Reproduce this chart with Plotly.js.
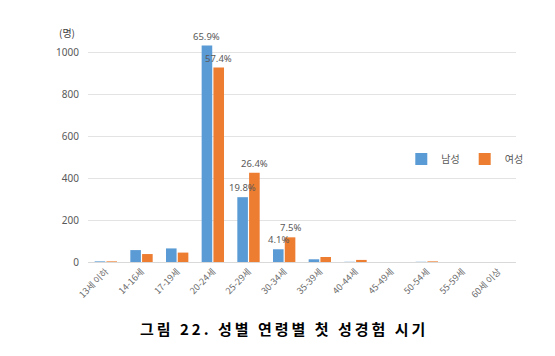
<!DOCTYPE html>
<html>
<head>
<meta charset="utf-8">
<script src="https://cdn.plot.ly/plotly-3.0.1.min.js"></script>
<style>html,body{margin:0;padding:0;background:#fff;}#chart{width:555px;height:356px;}</style>
</head>
<body>
<div id="chart"></div>
<script>
var categories = ["13세 이하","14-16세","17-19세","20-24세","25-29세","30-34세","35-39세","40-44세","45-49세","50-54세","55-59세","60세 이상"];
var male = [3, 57, 65, 1035, 310, 61, 13, 1, 0, 1, 0, 0];
var female = [3, 38, 45, 930, 427, 118, 24, 10, 0, 3, 0, 0];
var maleLabels = ["","","","65.9%","19.8%","4.1%","","","","","",""];
var femaleLabels = ["","","","57.4%","26.4%","7.5%","","","","","",""];

var labelFont = {family: "Noto Sans, Noto Sans CJK KR, sans-serif", size: 9.5, color: "#595959"};
var data = [
  {type: "bar", name: "남성", x: categories, y: male, marker: {color: "#5B9BD5"}, hoverinfo: "none"},
  {type: "bar", name: "여성", x: categories, y: female, marker: {color: "#ED7D31"}, hoverinfo: "none"}
];
var annotations = [
  {text: "(명)", xref: "paper", yref: "paper", x: -0.026, y: 1.0, xanchor: "right", yanchor: "middle",
   showarrow: false, font: {size: 10, color: "#404040"}},
  {text: "<b>그림 22. 성별 연령별 첫 성경험 시기</b>", xref: "paper", yref: "paper", x: 0.458, y: -0.285,
   xanchor: "center", yanchor: "middle", yshift: -1, showarrow: false, font: {size: 15, color: "#000"}}
];
for (var i = 0; i < categories.length; i++) {
  if (maleLabels[i]) annotations.push({x: categories[i], y: male[i], xref: "x", yref: "y", text: maleLabels[i],
    showarrow: false, yanchor: "bottom", xanchor: "center", xshift: -6, yshift: 1, font: labelFont});
  if (femaleLabels[i]) annotations.push({x: categories[i], y: female[i], xref: "x", yref: "y", text: femaleLabels[i],
    showarrow: false, yanchor: "bottom", xanchor: "center", xshift: 6, yshift: 1, font: labelFont});
}
var layout = {
  width: 555, height: 356,
  margin: {l: 88, r: 39, t: 32, b: 94},
  paper_bgcolor: "#fff", plot_bgcolor: "#fff",
  font: {family: "Noto Sans CJK KR, Noto Sans, sans-serif", color: "#595959"},
  barmode: "group", bargap: 0.34, bargroupgap: 0.1,
  showlegend: true,
  legend: {orientation: "h", x: 0.732, y: 0.448, xanchor: "left", yanchor: "middle",
           font: {size: 10, color: "#595959"}, bgcolor: "rgba(0,0,0,0)", itemwidth: 30,
           traceorder: "normal"},
  xaxis: {type: "category", range: [-0.5, 11.5], tickangle: -45, tickfont: {size: 9, color: "#6b6b6b"},
          showline: true, linecolor: "#D9D9D9", linewidth: 1, ticks: "", showgrid: false},
  yaxis: {range: [0, 1100], tickvals: [0, 200, 400, 600, 800, 1000], ticktext: ["0","200","400","600","800","1000"],
          tickfont: {size: 10, color: "#595959", family: "Noto Sans, sans-serif"},
          showgrid: true, gridcolor: "#E3E3E3", zeroline: false, showline: false, ticks: "", ticklabelstandoff: 8},
  annotations: annotations
};
Plotly.newPlot("chart", data, layout, {staticPlot: true, displayModeBar: false}).then(function(gd){
  var texts = gd.querySelectorAll(".annotation-text");
  texts[1].style.letterSpacing = "3px";
});
</script>
</body>
</html>
